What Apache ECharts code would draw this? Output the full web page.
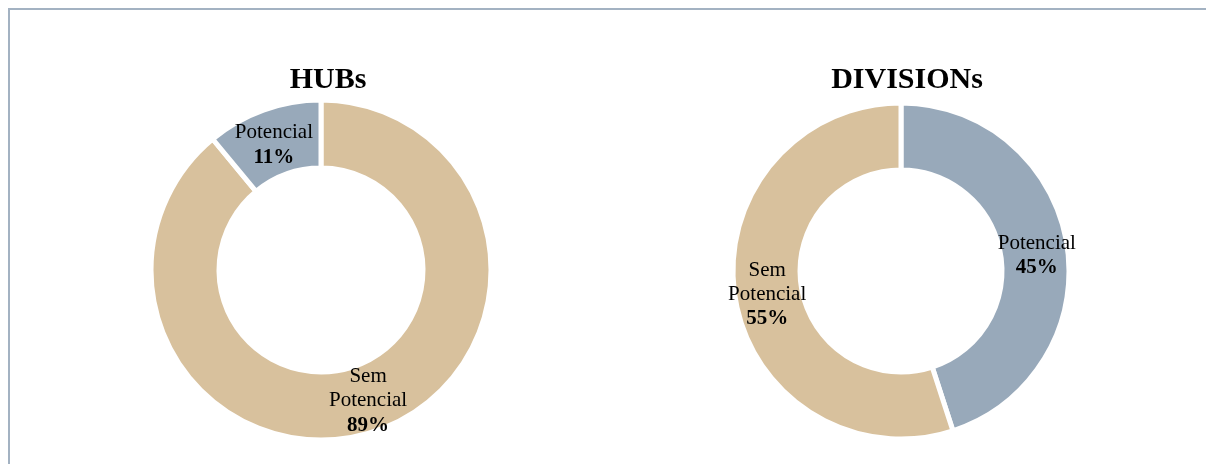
<!DOCTYPE html>
<html>
<head>
<meta charset="utf-8">
<script src="https://cdn.jsdelivr.net/npm/echarts@6/dist/echarts.min.js"></script>
<style>
html,body{margin:0;padding:0;background:#fff;}
#c{width:1206px;height:464px;}
</style>
</head>
<body>
<div id="c"></div>
<script>
const chartTitles = ['HUBs', 'DIVISIONs'];
const hubCategories = ['Sem Potencial', 'Potencial'];
const hubValues = [89, 11];
const divCategories = ['Potencial', 'Sem Potencial'];
const divValues = [45, 55];

const colorMap = { 'Sem Potencial': '#D8C19D', 'Potencial': '#98A9BA' };
const serif = '"Liberation Serif", "DejaVu Serif", serif';

function buildData(cats, vals, offsets) {
  return cats.map((c, i) => ({
    name: c,
    value: vals[i],
    itemStyle: { color: colorMap[c] },
    label: { offset: offsets[i] }
  }));
}

function labelFmt(p) {
  const name = p.name === 'Sem Potencial' ? 'Sem\nPotencial' : p.name;
  const lines = name.split('\n').map(s => '{n|' + s + '}');
  return lines.join('\n') + '\n{p|' + Math.round(p.percent) + '%}';
}

const baseLabel = {
  show: true,
  position: 'inside',
  formatter: labelFmt,
  rich: {
    n: { fontFamily: serif, fontSize: 21, color: '#000', lineHeight: 24.5 },
    p: { fontFamily: serif, fontSize: 21, fontWeight: 'bold', color: '#000', lineHeight: 24.5 }
  }
};

const chart = echarts.init(document.getElementById('c'), null, { renderer: 'canvas' });
chart.setOption({
  animation: false,
  backgroundColor: '#fff',
  graphic: [
    { type: 'polyline', silent: true, shape: { points: [[9, 464], [9, 9], [1206, 9]] },
      style: { stroke: '#A3B2C2', lineWidth: 2, fill: null } },
    { type: 'text', style: { text: chartTitles[0], x: 328, y: 80, textAlign: 'center', textVerticalAlign: 'middle',
      font: 'bold 30px ' + serif, fill: '#000' } },
    { type: 'text', style: { text: chartTitles[1], x: 907, y: 80, textAlign: 'center', textVerticalAlign: 'middle',
      font: 'bold 30px ' + serif, fill: '#000' } }
  ],
  series: [
    {
      type: 'pie',
      center: [321, 270],
      radius: [102, 170],
      startAngle: 90,
      clockwise: true,
      label: baseLabel,
      labelLine: { show: false },
      itemStyle: { borderColor: '#fff', borderWidth: 5 },
      emphasis: { disabled: true },
      data: buildData(hubCategories, hubValues, [[0, 0], [0, 6]])
    },
    {
      type: 'pie',
      center: [901, 271],
      radius: [101, 168],
      startAngle: 90,
      clockwise: true,
      label: baseLabel,
      labelLine: { show: false },
      itemStyle: { borderColor: '#fff', borderWidth: 5 },
      emphasis: { disabled: true },
      data: buildData(divCategories, divValues, [[0, 6], [2, 2]])
    }
  ]
});
</script>
</body>
</html>
